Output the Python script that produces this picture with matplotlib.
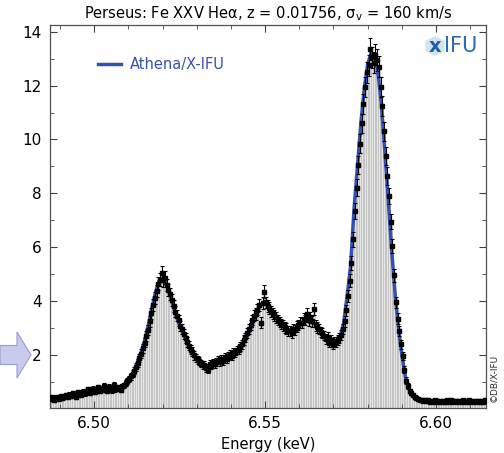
import numpy as np
import matplotlib
matplotlib.use("Agg")
import matplotlib.pyplot as plt
from matplotlib.patches import FancyArrow, RegularPolygon

# Simulated Athena/X-IFU spectrum (counts, 0.5 eV bins from 6.487 keV)
bin_start = 6.487
bin_width = 0.0005
counts = [
    0.35, 0.42, 0.31, 0.40, 0.44, 0.36, 0.47, 0.39, 0.45, 0.50,
    0.42, 0.53, 0.47, 0.58, 0.50, 0.44, 0.61, 0.55, 0.52, 0.63,
    0.57, 0.66, 0.72, 0.60, 0.68, 0.75, 0.62, 0.71, 0.80, 0.66,
    0.74, 0.85, 0.70, 0.66, 0.82, 0.77, 0.69, 0.88, 0.72, 0.80,
    0.76, 0.70, 0.83, 0.87, 0.95, 1.02, 1.12, 1.20, 1.30, 1.42,
    1.55, 1.70, 1.88, 2.05, 2.25, 2.45, 2.70, 2.92, 3.25, 3.55,
    3.85, 4.12, 4.38, 4.65, 4.80, 5.05, 4.78, 4.86, 4.60, 4.42,
    4.25, 4.05, 3.82, 3.60, 3.45, 3.28, 3.08, 2.95, 2.78, 2.62,
    2.48, 2.35, 2.20, 2.12, 1.98, 1.88, 1.80, 1.76, 1.68, 1.62,
    1.64, 1.52, 1.45, 1.66, 1.60, 1.72, 1.65, 1.75, 1.80, 1.72,
    1.85, 1.78, 1.92, 1.84, 1.95, 2.02, 1.96, 2.10, 2.08, 2.18,
    2.20, 2.32, 2.40, 2.55, 2.65, 2.80, 2.95, 3.12, 3.30, 3.45,
    3.52, 3.68, 3.85, 3.20, 3.92, 4.35, 3.95, 3.82, 3.75, 3.62,
    3.55, 3.48, 3.40, 3.30, 3.22, 3.15, 3.10, 3.02, 2.98, 2.90,
    2.88, 2.82, 2.95, 2.92, 3.05, 3.12, 3.20, 3.18, 3.35, 3.30,
    3.52, 3.28, 3.40, 3.25, 3.70, 3.10, 3.02, 2.95, 2.85, 2.80,
    2.72, 2.60, 2.66, 2.45, 2.55, 2.38, 2.50, 2.48, 2.56, 2.62,
    2.75, 2.95, 3.25, 3.65, 4.20, 4.75, 5.40, 6.30, 7.35, 8.20,
    9.05, 9.85, 10.60, 11.30, 11.95, 12.50, 12.75, 13.35, 13.05, 12.85,
    13.15, 12.95, 12.70, 11.95, 11.25, 10.30, 9.40, 8.65, 7.90, 6.95,
    6.05, 4.95, 3.95, 3.35, 2.90, 2.40, 1.95, 1.45, 1.05, 0.85,
    0.66, 0.58, 0.52, 0.45, 0.40, 0.36, 0.34, 0.31, 0.30, 0.33,
    0.29, 0.32, 0.27, 0.30, 0.26, 0.31, 0.28, 0.24, 0.30, 0.27,
    0.29, 0.25, 0.31, 0.27, 0.33, 0.26, 0.28, 0.30, 0.24, 0.29,
    0.27, 0.31, 0.26, 0.29, 0.25, 0.32, 0.28, 0.26, 0.30, 0.27,
    0.29, 0.25, 0.30, 0.27, 0.31, 0.28,
]

# Model curve, 1 eV steps from 6.487 keV
model_start = 6.487
model_step = 0.001
model = [
    0.37, 0.39, 0.40, 0.42, 0.44, 0.46, 0.48, 0.51, 0.53, 0.55,
    0.57, 0.59, 0.61, 0.63, 0.65, 0.67, 0.69, 0.71, 0.72, 0.74,
    0.77, 0.82, 0.92, 1.05, 1.25, 1.50, 1.85, 2.20, 2.65, 3.20,
    3.80, 4.35, 4.75, 4.85, 4.65, 4.30, 3.85, 3.45, 3.10, 2.80,
    2.50, 2.22, 2.00, 1.82, 1.70, 1.62, 1.60, 1.62, 1.68, 1.74,
    1.80, 1.85, 1.90, 1.97, 2.05, 2.15, 2.30, 2.50, 2.75, 3.05,
    3.40, 3.70, 3.90, 3.92, 3.82, 3.62, 3.42, 3.25, 3.10, 3.00,
    2.92, 2.90, 2.98, 3.10, 3.22, 3.30, 3.30, 3.22, 3.08, 2.92,
    2.78, 2.65, 2.55, 2.50, 2.52, 2.70, 3.20, 4.20, 5.30, 7.40,
    9.00, 10.60, 11.90, 12.80, 13.20, 13.10, 12.50, 11.30, 9.60, 7.80,
    5.90, 4.30, 3.00, 2.00, 1.20, 0.75, 0.50, 0.38, 0.33, 0.31,
    0.30, 0.30, 0.29, 0.29, 0.29, 0.28, 0.28, 0.28, 0.28, 0.28,
    0.28, 0.28, 0.27, 0.27, 0.27, 0.27, 0.27, 0.27, 0.27,
]

counts = np.array(counts)
energy = bin_start + bin_width * (np.arange(len(counts)) + 0.5)
errors = 0.11 * np.sqrt(counts)  # poisson-like errors
model_energy = model_start + model_step * np.arange(len(model))

fig = plt.figure(figsize=(5.04, 4.53), dpi=100)
ax = fig.add_axes([50 / 504, 1 - 408 / 453, 436 / 504, 383 / 453])

# grey histogram bars
ax.bar(energy, counts, width=bin_width, color='#e6e6e6', edgecolor='#b4b4b4',
       linewidth=0.4, zorder=1)
# model
ax.plot(model_energy, model, color='#3550b0', lw=2.5, zorder=2, label='Athena/X-IFU')
# data points
ax.errorbar(energy, counts, yerr=errors, fmt='s', ms=2.4, color='black',
            elinewidth=0.8, capsize=1.5, capthick=0.8, zorder=3)

ax.set_xlim(6.4871, 6.6146)
ax.set_ylim(0.03, 14.25)
ax.set_xticks([6.50, 6.55, 6.60])
ax.set_xticklabels(['6.50', '6.55', '6.60'])
ax.set_xticks(np.arange(6.49, 6.615, 0.01), minor=True)
ax.set_yticks([2, 4, 6, 8, 10, 12, 14])
ax.set_yticks([1, 3, 5, 7, 9, 11, 13], minor=True)
ax.tick_params(which='both', direction='in', top=True, right=True,
               labelsize=11, color='#404040')
ax.tick_params(which='major', length=5, pad=6)
ax.tick_params(which='minor', length=3)
for s in ax.spines.values():
    s.set_color('#505050')
    s.set_linewidth(0.9)

ax.set_xlabel('Energy (keV)', fontsize=10.5, labelpad=4)
ax.set_title('Perseus: Fe XXV Heα, z = 0.01756, σ$_{\\rm v}$ = 160 km/s',
             fontsize=10.5, pad=5)

leg = ax.legend(loc='upper left', bbox_to_anchor=(0.08, 0.95), frameon=False,
                fontsize=10.5, handlelength=1.6, handletextpad=0.6)
for t in leg.get_texts():
    t.set_color('#3a4fb0')

# IFU logo
hexagon = RegularPolygon((435 / 504, 1 - 46 / 453), numVertices=6, radius=0.022,
                         transform=fig.transFigure, facecolor='#cfe3f3',
                         edgecolor='none')
fig.patches.append(hexagon)
fig.text(435 / 504, 1 - 46 / 453, 'x', color='#1d5fa8', fontsize=14,
         fontweight='bold', ha='center', va='center')
fig.text(444 / 504, 1 - 46 / 453, 'IFU', color='#2a6cb5', fontsize=15,
         ha='left', va='center')

# credit
fig.text(494 / 504, 1 - 378 / 453, '©DB/X-IFU', rotation=90, fontsize=6.5,
         ha='center', va='center', color='#303030')

# arrow on the left
arrow = FancyArrow(0.0, 1 - 355 / 453, 31 / 504, 0, width=19 / 453,
                   head_width=46 / 453, head_length=14 / 504,
                   length_includes_head=True, transform=fig.transFigure,
                   facecolor='#c8cbee', edgecolor='#9a9ccc', linewidth=0.8)
fig.patches.append(arrow)

plt.savefig('out.png', dpi=100)
